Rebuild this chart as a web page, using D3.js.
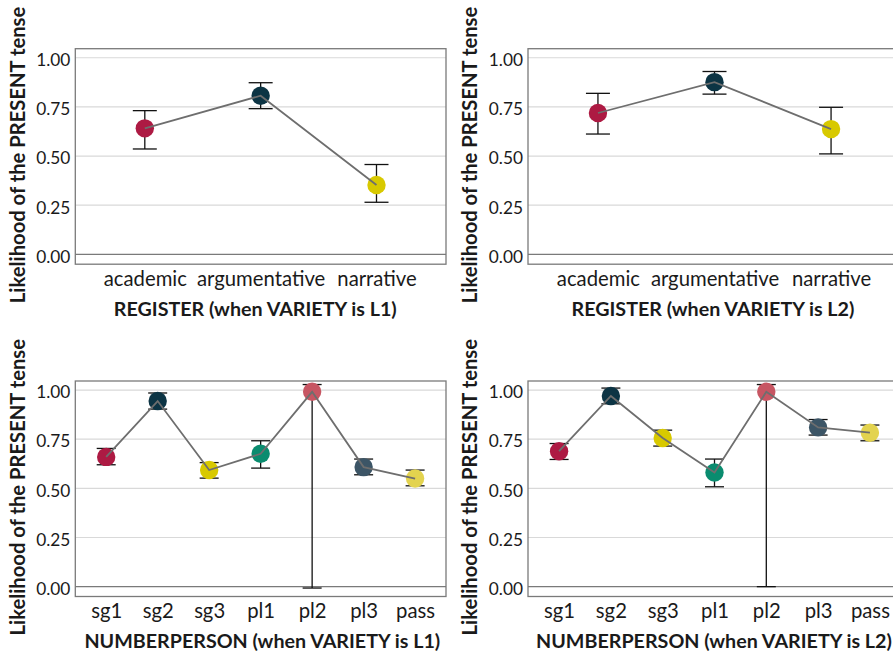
<!DOCTYPE html>
<html>
<head>
<meta charset="utf-8">
<script src="https://cdn.jsdelivr.net/npm/d3@7"></script>
<style>
  html, body { margin: 0; padding: 0; background: #fff; }
  svg { display: block; }
  .tick text { font-family: "Lato", "Open Sans", sans-serif; fill: #1a1a1a; }
  .title { font-family: "Lato", "Open Sans", sans-serif; font-weight: bold; fill: #1a1a1a; }
</style>
</head>
<body>
<svg id="chart" width="893" height="655"></svg>
<script>
// Predicted likelihood of the present tense, with confidence intervals
const registerLevels = ["academic", "argumentative", "narrative"];
const registerColors = ["#AD1A43", "#0C3444", "#D8C900"];
const registerL1 = [0.641, 0.807, 0.353];
const registerL1Lower = [0.536, 0.741, 0.265];
const registerL1Upper = [0.731, 0.873, 0.457];
const registerL2 = [0.719, 0.876, 0.637];
const registerL2Lower = [0.612, 0.815, 0.511];
const registerL2Upper = [0.819, 0.930, 0.748];

const numberPersonLevels = ["sg1", "sg2", "sg3", "pl1", "pl2", "pl3", "pass"];
const numberPersonColors = ["#AD1A43", "#0C3444", "#D8C900", "#0A8C6F", "#C75663", "#3C5566", "#E3D34F"];
const numberPersonL1 = [0.660, 0.944, 0.593, 0.676, 0.991, 0.608, 0.550];
const numberPersonL1Lower = [0.620, 0.903, 0.552, 0.603, -0.007, 0.569, 0.513];
const numberPersonL1Upper = [0.703, 0.985, 0.631, 0.742, 1.028, 0.649, 0.593];
const numberPersonL2 = [0.689, 0.970, 0.756, 0.581, 0.991, 0.810, 0.783];
const numberPersonL2Lower = [0.647, 0.930, 0.715, 0.508, 0.000, 0.771, 0.742];
const numberPersonL2Upper = [0.728, 1.010, 0.796, 0.649, 1.028, 0.850, 0.822];

const yTicks = [0, 0.25, 0.5, 0.75, 1];
const yTitle = "Likelihood of the PRESENT tense";

const panels = [
  { levels: registerLevels, colors: registerColors, est: registerL1, lo: registerL1Lower, hi: registerL1Upper,
    title: "REGISTER (when VARIETY is L1)", left: 75.3, top: 48.7, width: 370.7, cap: 12, titleX: 180 },
  { levels: registerLevels, colors: registerColors, est: registerL2, lo: registerL2Lower, hi: registerL2Upper,
    title: "REGISTER (when VARIETY is L2)", left: 528, top: 48.7, width: 373, cap: 12, titleX: 185 },
  { levels: numberPersonLevels, colors: numberPersonColors, est: numberPersonL1, lo: numberPersonL1Lower, hi: numberPersonL1Upper,
    title: "NUMBERPERSON (when VARIETY is L1)", left: 75.3, top: 381, width: 370.7, cap: 9.5, titleX: 187 },
  { levels: numberPersonLevels, colors: numberPersonColors, est: numberPersonL2, lo: numberPersonL2Lower, hi: numberPersonL2Upper,
    title: "NUMBERPERSON (when VARIETY is L2)", left: 528, top: 381, width: 373, cap: 9.5, titleX: 186 }
];

const panelHeight = 215.5;
const svg = d3.select("#chart");

panels.forEach(p => {
  const g = svg.append("g").attr("transform", `translate(${p.left},${p.top})`);
  const x = d3.scalePoint().domain(p.levels).range([0, p.width]).padding(0.6);
  const y = d3.scaleLinear().domain([-0.05, 1.046]).range([panelHeight, 0]);

  // grid
  g.append("g").selectAll("line").data(yTicks.filter(t => t > 0)).join("line")
    .attr("x1", 0).attr("x2", p.width)
    .attr("y1", d => y(d)).attr("y2", d => y(d))
    .attr("stroke", "#d9d9d9").attr("stroke-width", 1.2);
  // reference line at zero
  g.append("line").attr("x1", 0).attr("x2", p.width)
    .attr("y1", y(0)).attr("y2", y(0))
    .attr("stroke", "#7a7a7a").attr("stroke-width", 1.4);
  // panel border
  g.append("rect").attr("x", 0).attr("y", 0).attr("width", p.width).attr("height", panelHeight)
    .attr("fill", "none").attr("stroke", "#7a7a7a").attr("stroke-width", 1.3);

  // axes
  const ya = g.append("g").call(d3.axisLeft(y).tickValues(yTicks).tickFormat(d3.format(".2f")).tickSize(0).tickPadding(5));
  ya.select(".domain").remove();
  ya.selectAll("text").attr("font-size", 17.3).attr("dy", "0.45em");

  const xa = g.append("g").attr("transform", `translate(0,${panelHeight})`)
    .call(d3.axisBottom(x).tickSize(0));
  xa.select(".domain").remove();
  xa.selectAll("text").attr("font-size", 20.3).attr("dy", 0).attr("y", 21.5);

  const rows = p.levels.map((l, i) => ({ l, est: p.est[i], lo: p.lo[i], hi: p.hi[i], c: p.colors[i] }));

  // error bars
  const eb = g.append("g").attr("stroke", "#111").attr("stroke-width", 1.3);
  rows.forEach(r => {
    eb.append("line").attr("x1", x(r.l)).attr("x2", x(r.l)).attr("y1", y(r.lo)).attr("y2", y(r.hi));
    eb.append("line").attr("x1", x(r.l) - p.cap).attr("x2", x(r.l) + p.cap).attr("y1", y(r.lo)).attr("y2", y(r.lo));
    eb.append("line").attr("x1", x(r.l) - p.cap).attr("x2", x(r.l) + p.cap).attr("y1", y(r.hi)).attr("y2", y(r.hi));
  });

  // points
  g.append("g").selectAll("circle").data(rows).join("circle")
    .attr("cx", d => x(d.l)).attr("cy", d => y(d.est)).attr("r", 9.2)
    .attr("fill", d => d.c);

  // connecting line
  g.append("path").datum(rows)
    .attr("d", d3.line().x(d => x(d.l)).y(d => y(d.est)))
    .attr("fill", "none").attr("stroke", "#6e6e6e").attr("stroke-width", 1.8);

  // titles
  g.append("text").attr("class", "title")
    .attr("x", p.titleX).attr("y", panelHeight + 51.5)
    .attr("text-anchor", "middle").attr("font-size", 19.7)
    .text(p.title);
  g.append("text").attr("class", "title")
    .attr("transform", `translate(${p.left < 300 ? 25 - p.left : 477 - p.left},${panelHeight / 2 - 1.5}) rotate(-90)`)
    .attr("text-anchor", "middle").attr("font-size", 20.2)
    .text(yTitle);
});
</script>
</body>
</html>
